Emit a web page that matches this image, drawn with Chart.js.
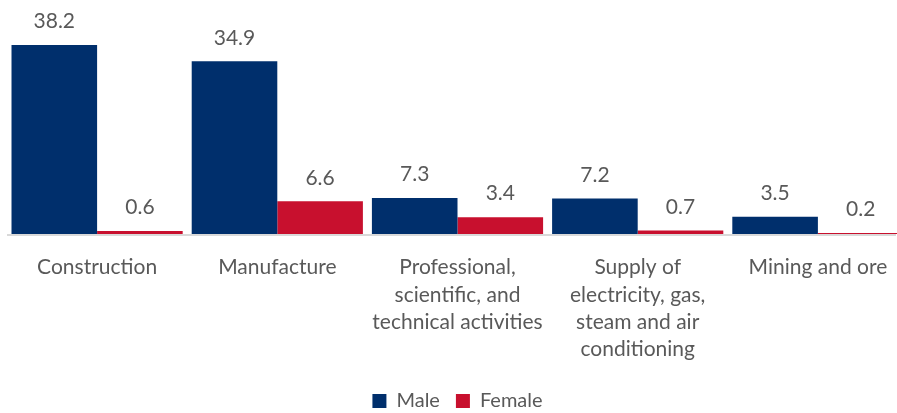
<!DOCTYPE html>
<html>
<head>
<meta charset="utf-8">
<script src="https://cdn.jsdelivr.net/npm/chart.js@4"></script>
<style>
    html, body { margin: 0; padding: 0; background: #fff; overflow: hidden; }
    #wrap { width: 910px; height: 413px; }
</style>
</head>
<body>
<div id="wrap"><canvas id="myChart"></canvas></div>
<script>
const categories = [
    'Construction',
    'Manufacture',
    ['Professional,', 'scientific, and', 'technical activities'],
    ['Supply of', 'electricity, gas,', 'steam and air', 'conditioning'],
    'Mining and ore'
];
const maleValues = [38.2, 34.9, 7.3, 7.2, 3.5];
const femaleValues = [0.6, 6.6, 3.4, 0.7, 0.2];

const textColor = '#595959';
const fontFamily = 'Lato, "Open Sans", sans-serif';

// value labels above each bar
const valueLabels = {
    id: 'valueLabels',
    afterDatasetsDraw(chart) {
        const ctx = chart.ctx;
        ctx.save();
        ctx.fillStyle = textColor;
        ctx.font = '21px ' + fontFamily;
        ctx.textAlign = 'center';
        ctx.textBaseline = 'bottom';
        chart.data.datasets.forEach((ds, i) => {
            chart.getDatasetMeta(i).data.forEach((bar, j) => {
                ctx.fillText(ds.data[j].toFixed(1), bar.x, bar.y - 13);
            });
        });
        ctx.restore();
    }
};

// baseline rule under the bars
const baseLine = {
    id: 'baseLine',
    afterDatasetsDraw(chart) {
        const ctx = chart.ctx;
        const y = chart.scales.y.getPixelForValue(0);
        ctx.save();
        ctx.strokeStyle = '#d9d9d9';
        ctx.lineWidth = 2;
        ctx.beginPath();
        ctx.moveTo(7, y + 1);
        ctx.lineTo(896, y + 1);
        ctx.stroke();
        ctx.restore();
    }
};

new Chart(document.getElementById('myChart'), {
    type: 'bar',
    data: {
        labels: categories,
        datasets: [{
            label: 'Male',
            data: maleValues,
            backgroundColor: '#002F6C',
            categoryPercentage: 0.95,
            barPercentage: 1.0
        }, {
            label: 'Female',
            data: femaleValues,
            backgroundColor: '#C8102E',
            categoryPercentage: 0.95,
            barPercentage: 1.0
        }]
    },
    options: {
        responsive: true,
        maintainAspectRatio: false,
        animation: false,
        layout: { padding: { left: 7, right: 2, top: 0, bottom: -8 } },
        plugins: {
            tooltip: { enabled: false },
            legend: {
                position: 'bottom',
                labels: {
                    color: textColor,
                    font: { family: fontFamily, size: 20 },
                    boxWidth: 14,
                    boxHeight: 14,
                    padding: 16
                }
            }
        },
        scales: {
            x: {
                grid: { display: false },
                border: { display: false },
                ticks: {
                    color: textColor,
                    font: { family: fontFamily, size: 21, lineHeight: 1.3 },
                    padding: 12,
                    maxRotation: 0,
                    autoSkip: false
                },
                afterFit(scale) { scale.height = 141; }
            },
            y: {
                display: false,
                min: 0,
                max: 47.3
            }
        }
    },
    plugins: [valueLabels, baseLine]
});
</script>
</body>
</html>
